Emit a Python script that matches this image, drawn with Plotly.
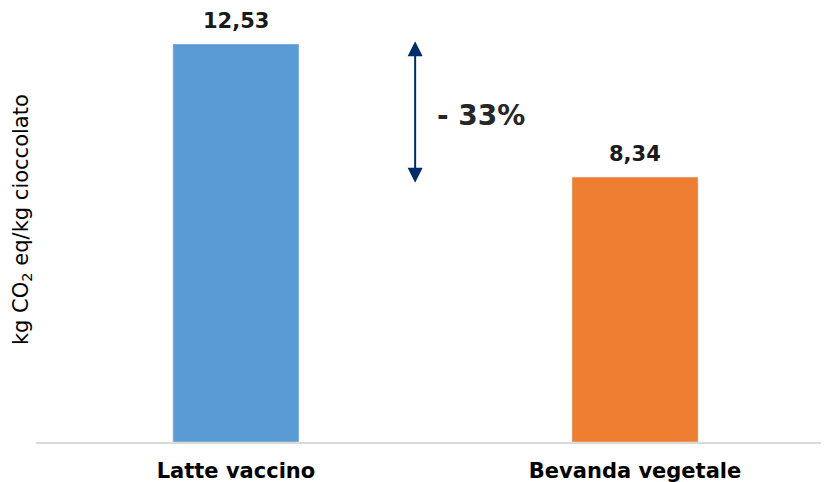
import plotly.graph_objects as go

categorie = ['Latte vaccino', 'Bevanda vegetale']
valori = [12.53, 8.34]
colori = ['#5B9BD5', '#ED7D31']
etichette = [f'{v:.2f}'.replace('.', ',') for v in valori]

riduzione = (valori[1] - valori[0]) / valori[0] * 100
testo_riduzione = f'- {abs(riduzione):.0f}%'

fig = go.Figure()

fig.add_trace(go.Bar(
    x=categorie,
    y=valori,
    marker_color=colori,
    width=0.316,
    hoverinfo='skip'
))

# etichette valori sopra le barre
for c, v, t in zip(categorie, valori, etichette):
    fig.add_annotation(
        x=c, y=v, text=f'<b>{t}</b>', showarrow=False,
        yanchor='middle', yshift=23,
        font=dict(family='DejaVu Sans', size=21, color='#1a1a1a')
    )

# freccia doppia tra i due valori
x_freccia = 0.449
fig.add_annotation(
    x=x_freccia, y=valori[1] - 0.18, ax=x_freccia, ay=valori[0] + 0.13,
    xref='x', yref='y', axref='x', ayref='y',
    showarrow=True, arrowhead=2, startarrowhead=2,
    arrowside='end+start', arrowsize=1.5, startarrowsize=1.5,
    arrowwidth=2, arrowcolor='#002D6A', text='', standoff=0, startstandoff=0
)
fig.add_annotation(
    x=x_freccia, y=(valori[0] + valori[1]) / 2 - 0.15,
    text=f'<b>{testo_riduzione}</b>', showarrow=False,
    xanchor='left', xshift=20,
    font=dict(family='DejaVu Sans', size=28, color='#262626')
)

# titolo asse y
fig.add_annotation(
    xref='paper', yref='paper', x=-0.0177, y=0.516,
    text='kg CO<sub>2</sub> eq/kg cioccolato', showarrow=False,
    textangle=-90, xanchor='center', yanchor='middle',
    font=dict(family='DejaVu Sans', size=21, color='black')
)

# la pagina ha 8px di margine: figura ridotta di 8px
fig.update_layout(
    width=821, height=474,
    margin=dict(l=28, r=0, t=2, b=40, autoexpand=False),
    plot_bgcolor='white', paper_bgcolor='white',
    showlegend=False,
    bargap=0.68,
)

fig.update_xaxes(
    type='category',
    range=[-0.501, 1.486],
    showline=True, linecolor='#D9D9D9', linewidth=2,
    showgrid=False, ticks='',
    tickfont=dict(family='DejaVu Sans', size=21, color='black'),
    ticklabelstandoff=9, automargin=False,
    tickprefix='<b>', ticksuffix='</b>'
)
fig.update_yaxes(
    range=[0, 13.6],
    showticklabels=False, showgrid=False, zeroline=False, showline=False,
    automargin=False
)

fig.write_html('out.html')
